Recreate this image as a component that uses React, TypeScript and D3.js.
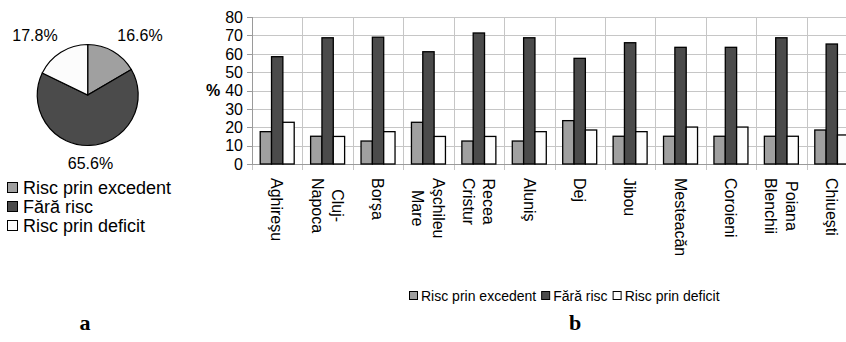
import React, { useEffect, useRef } from 'react';
import * as d3 from 'd3';

// pie (a)
const pieNames = ["Risc prin excedent", "Fără risc", "Risc prin deficit"];
const pieValues = [16.6, 65.6, 17.8];
const pieColors = ["#a0a0a0", "#4b4b4b", "#fcfcfc"];

// bars (b)
const places = ["Aghireşu", "Cluj-\nNapoca", "Borşa", "Aşchileu\nMare", "Recea\nCristur", "Aluniş", "Dej", "Jibou", "Mesteacăn", "Coroieni", "Poiana\nBlenchii", "Chiueşti"];
const excedent = [17.6, 15.1, 12.5, 22.7, 12.5, 12.5, 23.6, 15.1, 15.1, 15.1, 15.1, 18.5];
const faraRisc = [58.4, 68.7, 69, 61.1, 71.3, 68.7, 57.5, 66, 63.5, 63.5, 68.7, 65.3];
const deficit = [22.7, 15, 17.6, 15, 15, 17.6, 18.5, 17.6, 20.1, 20.1, 15.1, 15.8];
const yTicks = [0, 10, 20, 30, 40, 50, 60, 70, 80];

const FONT = "'Liberation Sans', Arial, sans-serif";

const App = () => {
  const svgRef = useRef(null);

  useEffect(() => {
    const svg = d3.select(svgRef.current);
    svg.selectAll("*").remove();
    svg.attr("font-family", FONT);

    // ---------- pie ----------
    const pg = svg.append("g").attr("transform", "translate(87.7,95)");
    const pie = d3.pie<number>().sort(null).value(d => d);
    const arc = d3.arc<any>().innerRadius(0).outerRadius(50.5);
    pg.selectAll("path")
      .data(pie(pieValues))
      .enter()
      .append("path")
      .attr("d", arc)
      .attr("fill", (d, i) => pieColors[i])
      .attr("stroke", "#000")
      .attr("stroke-width", 1.2);

    const pctPos = [[140, 41], [90.5, 169], [35, 41]];
    pieValues.forEach((v, i) => {
      svg.append("text")
        .attr("x", pctPos[i][0])
        .attr("y", pctPos[i][1])
        .attr("text-anchor", "middle")
        .attr("font-size", "16px")
        .text(v.toFixed(1) + "%");
    });

    pieNames.forEach((n, i) => {
      const cy = 187.5 + i * 19;
      svg.append("rect")
        .attr("x", 7.5).attr("y", cy - 5)
        .attr("width", 10).attr("height", 10)
        .attr("fill", pieColors[i])
        .attr("stroke", "#000").attr("stroke-width", 1);
      svg.append("text")
        .attr("x", 23).attr("y", cy + 6.5)
        .attr("font-size", "18px")
        .text(n);
    });

    // ---------- bars ----------
    const left = 252, right = 857, top = 17, bottom = 164;
    const x = d3.scaleBand().domain(places).range([left, right]);
    const inner = d3.scaleBand().domain(["e", "f", "d"]).range([8.2, 42.2]);
    const y = d3.scaleLinear().domain([0, 80]).range([bottom, top]);

    const grid = svg.append("g").attr("stroke", "#c6c6c6").attr("stroke-width", 1);
    yTicks.forEach(t => {
      grid.append("line")
        .attr("x1", left).attr("x2", right)
        .attr("y1", Math.round(y(t)) + 0.5).attr("y2", Math.round(y(t)) + 0.5);
    });
    places.forEach(p => {
      const xx = Math.round(x(p) as number) + 0.5;
      grid.append("line")
        .attr("x1", xx).attr("x2", xx)
        .attr("y1", top).attr("y2", bottom + 6);
    });
    grid.append("line")
      .attr("x1", right - 0.5).attr("x2", right - 0.5)
      .attr("y1", top).attr("y2", bottom + 6);

    // axes
    const ax = svg.append("g").attr("stroke", "#9a9a9a").attr("stroke-width", 1);
    ax.append("line").attr("x1", left + 0.5).attr("x2", left + 0.5).attr("y1", top).attr("y2", bottom);
    ax.append("line").attr("x1", left).attr("x2", right).attr("y1", bottom + 0.5).attr("y2", bottom + 0.5);
    yTicks.forEach(t => {
      ax.append("line")
        .attr("x1", left - 5).attr("x2", left)
        .attr("y1", Math.round(y(t)) + 0.5).attr("y2", Math.round(y(t)) + 0.5);
    });

    svg.append("g")
      .selectAll("text")
      .data(yTicks)
      .enter()
      .append("text")
      .attr("x", left - 9)
      .attr("y", d => y(d))
      .attr("dy", "0.36em")
      .attr("text-anchor", "end")
      .attr("font-size", "16px")
      .text(d => d);

    svg.append("text")
      .attr("x", 213).attr("y", y(40))
      .attr("dy", "0.36em")
      .attr("text-anchor", "middle")
      .attr("font-size", "16px")
      .attr("font-weight", "bold")
      .text("%");

    const series = [
      { key: "e", vals: excedent, color: pieColors[0] },
      { key: "f", vals: faraRisc, color: pieColors[1] },
      { key: "d", vals: deficit, color: pieColors[2] },
    ];
    const bars = svg.append("g");
    series.forEach(s => {
      bars.selectAll(".b" + s.key)
        .data(places)
        .enter()
        .append("rect")
        .attr("x", d => (x(d) as number) + (inner(s.key) as number))
        .attr("y", (d, i) => y(s.vals[i]))
        .attr("width", inner.bandwidth())
        .attr("height", (d, i) => bottom - y(s.vals[i]))
        .attr("fill", s.color)
        .attr("stroke", "#000")
        .attr("stroke-width", 1.3);
    });

    // category labels, rotated, lines centred within block
    const labelTop = 178;
    places.forEach(p => {
      const lines = p.split("\n");
      const cx = (x(p) as number) + x.bandwidth() / 2;
      const g = svg.append("g").attr("transform", `translate(${cx},${labelTop}) rotate(90)`);
      const texts = lines.map((ln, i) => {
        const off = (i - (lines.length - 1) / 2) * 20.5;
        return g.append("text")
          .attr("y", off)
          .attr("dy", "0.36em")
          .attr("font-size", "16px")
          .attr("text-anchor", "middle")
          .text(ln);
      });
      const w = d3.max(texts, t => (t.node() as SVGTextElement).getComputedTextLength()) || 0;
      texts.forEach(t => t.attr("x", w / 2));
    });

    // bottom legend
    const lg = svg.append("g");
    let lx = 409;
    const ly = 296;
    pieNames.forEach((n, i) => {
      lg.append("rect")
        .attr("x", lx + 0.5).attr("y", ly - 4.5)
        .attr("width", 8).attr("height", 8)
        .attr("fill", pieColors[i])
        .attr("stroke", "#000").attr("stroke-width", 1);
      const t = lg.append("text")
        .attr("x", lx + 12).attr("y", ly + 5)
        .attr("font-size", "14px")
        .text(n);
      lx += 12 + (t.node() as SVGTextElement).getComputedTextLength() + 5;
    });

    svg.append("text")
      .attr("x", 85).attr("y", 330)
      .attr("text-anchor", "middle")
      .attr("font-family", "'Liberation Serif', 'Times New Roman', serif")
      .attr("font-weight", "bold")
      .attr("font-size", "22px")
      .text("a");
    svg.append("text")
      .attr("x", 575).attr("y", 330)
      .attr("text-anchor", "middle")
      .attr("font-family", "'Liberation Serif', 'Times New Roman', serif")
      .attr("font-weight", "bold")
      .attr("font-size", "22px")
      .text("b");
  }, []);

  return (
    <svg
      ref={svgRef}
      width={846}
      height={342}
      style={{ position: "absolute", left: 0, top: 0, background: "#fff" }}
    ></svg>
  );
};

export default App;
